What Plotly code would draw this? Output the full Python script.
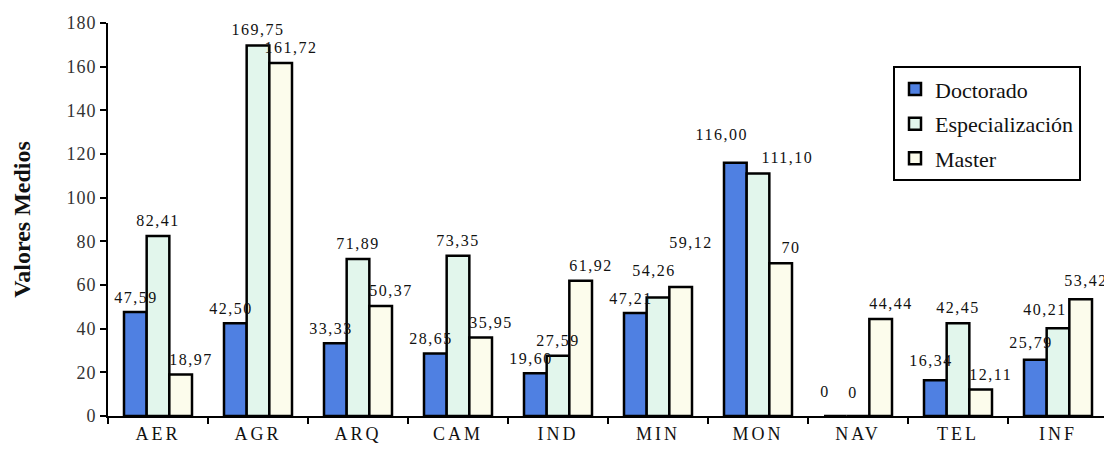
import plotly.graph_objects as go

categories = ["AER", "AGR", "ARQ", "CAM", "IND", "MIN", "MON", "NAV", "TEL", "INF"]
doctorado = [47.59, 42.50, 33.33, 28.65, 19.60, 47.21, 116.00, 0, 16.34, 25.79]
especializacion = [82.41, 169.75, 71.89, 73.35, 27.59, 54.26, 111.10, 0, 42.45, 40.21]
master = [18.97, 161.72, 50.37, 35.95, 61.92, 59.12, 70, 44.44, 12.11, 53.42]
doctorado_lbl = ["47,59", "42,50", "33,33", "28,65", "19,60", "47,21", "116,00", "0", "16,34", "25,79"]
especializacion_lbl = ["82,41", "169,75", "71,89", "73,35", "27,59", "54,26", "111,10", "0", "42,45", "40,21"]
master_lbl = ["18,97", "161,72", "50,37", "35,95", "61,92", "59,12", "70", "44,44", "12,11", "53,42"]

serif = "Liberation Serif, Times New Roman, serif"
BARGAP = 0.32
W = (1 - BARGAP) / 3  # bar width in category units

# label placement relative to bar centre: (x offset in category units, xanchor, xshift px, yshift px)
placement = {
    "Doctorado": (W / 2, "right", 4, 4),
    "Especialización": (0, "center", 0, 5),
    "Master": (0, "center", 10, 5),
}
# pixel nudges for labels that are stacked to avoid overlaps (series, category) -> (dx, dy)
nudges = {
    ("Doctorado", "AER"): (5, 0),
    ("Especialización", "MIN"): (-4, 12),
    ("Master", "MIN"): (0, 29),
    ("Doctorado", "MON"): (-6, 14),
    ("Especialización", "MON"): (29, 0),
    ("Doctorado", "NAV"): (-20, 10),
    ("Especialización", "NAV"): (-5, 8),
    ("Doctorado", "TEL"): (0, 5),
    ("Doctorado", "INF"): (0, 3),
    ("Especialización", "INF"): (-13, 3),
    ("Master", "INF"): (-5, 3),
}

fig = go.Figure()
series = [
    ("Doctorado", doctorado, doctorado_lbl, "#4f80e2"),
    ("Especialización", especializacion, especializacion_lbl, "#e2f6ec"),
    ("Master", master, master_lbl, "#fcfcec"),
]
offsets = [-W, 0, W]
annotations = []
for i, (name, vals, lbls, col) in enumerate(series):
    fig.add_trace(go.Bar(
        x=categories, y=vals, name=name,
        marker=dict(color=col, line=dict(color="black", width=2.5)),
        legendgroup=f"g{i}",
    ))
    xoff, xanc, xs, ys = placement[name]
    for j, (v, t) in enumerate(zip(vals, lbls)):
        dx, dy = nudges.get((name, categories[j]), (0, 0))
        annotations.append(dict(
            x=j + offsets[i] + xoff, y=v, xref="x", yref="y", text=t, showarrow=False,
            xanchor=xanc, yanchor="bottom", xshift=xs + dx, yshift=ys + dy,
            font=dict(family=serif, size=16, color="#111"),
        ))

fig.update_layout(
    width=1104, height=444,
    margin=dict(l=100, r=4, t=15, b=36),
    paper_bgcolor="white", plot_bgcolor="white",
    barmode="group", bargap=BARGAP, bargroupgap=0,
    showlegend=True,
    legend=dict(
        x=0.785, y=0.89, xanchor="left", yanchor="top",
        bordercolor="black", borderwidth=2, bgcolor="white",
        font=dict(family=serif, size=22, color="#111"),
        tracegroupgap=3,
    ),
    annotations=annotations,
)
fig.update_xaxes(
    range=[-0.5, len(categories) - 0.5], autorange=False,
    showline=True, linecolor="black", linewidth=2,
    ticks="outside", tickson="boundaries", ticklen=6, tickwidth=2, tickcolor="black",
    tickfont=dict(family=serif, size=18, color="#111"),
    showgrid=False, zeroline=False,
)
fig.update_yaxes(
    range=[0, 180], autorange=False, dtick=20,
    showline=True, linecolor="black", linewidth=2,
    ticks="outside", ticklen=6, tickwidth=2, tickcolor="black",
    tickfont=dict(family=serif, size=18, color="#333"),
    showgrid=False, zeroline=False,
    title=dict(text="<b>Valores Medios</b>", font=dict(family=serif, size=24, color="#111"), standoff=32),
)

post = """
var s=document.createElement('style');
s.textContent='.xtick text{letter-spacing:3px} .annotation-text{letter-spacing:1.5px} .ytick text{letter-spacing:1px}';
document.head.appendChild(s);
"""
fig.write_html("out.html", post_script=post)
